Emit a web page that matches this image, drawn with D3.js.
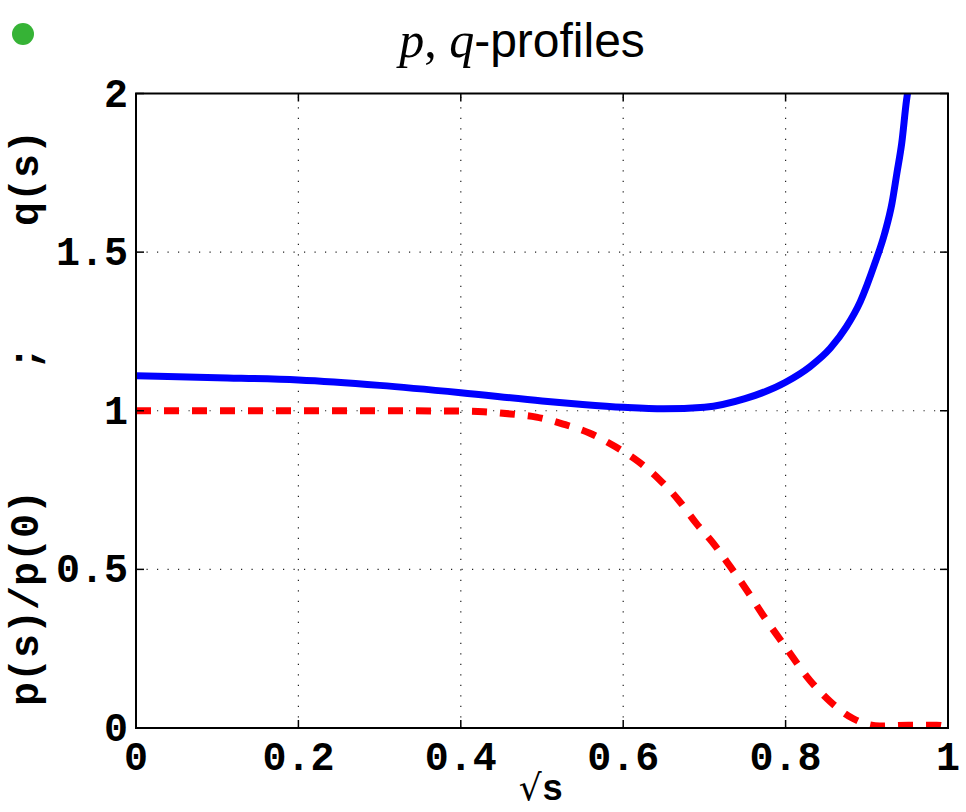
<!DOCTYPE html>
<html>
<head>
<meta charset="utf-8">
<script src="https://cdn.jsdelivr.net/npm/d3@7"></script>
<style>
  html, body { margin: 0; padding: 0; background: #fff; }
  svg { display: block; }
</style>
</head>
<body>
<svg id="chart" width="966" height="812"></svg>
<script>
// Radial coordinate sqrt(s) and the q profile
const qX = [0, 0.1, 0.2, 0.3, 0.4, 0.5, 0.55, 0.6, 0.65, 0.7, 0.75, 0.8, 0.83, 0.855, 0.875, 0.892, 0.91, 0.922, 0.931, 0.937, 0.943, 0.949, 0.952];
const qVal = [1.110, 1.104, 1.097, 1.080, 1.057, 1.031, 1.020, 1.011, 1.006, 1.011, 1.038, 1.090, 1.139, 1.197, 1.265, 1.344, 1.465, 1.559, 1.654, 1.748, 1.843, 1.980, 2.030];

// Normalised pressure profile p(s)/p(0)
const pX = [0, 0.1, 0.2, 0.3, 0.4, 0.428, 0.461, 0.493, 0.526, 0.559, 0.59, 0.619, 0.645, 0.668, 0.69, 0.711, 0.732, 0.752, 0.775, 0.8, 0.83, 0.855, 0.883, 0.916, 0.951, 0.986, 1.0];
const pVal = [1.0, 1.0, 1.0, 1.0, 0.999, 0.997, 0.990, 0.980, 0.958, 0.929, 0.887, 0.839, 0.782, 0.719, 0.645, 0.582, 0.508, 0.435, 0.345, 0.255, 0.150, 0.083, 0.030, 0.006, 0.009, 0.009, 0.003];

const xTicks = [0, 0.2, 0.4, 0.6, 0.8, 1];
const xTickLabels = ["0", "0.2", "0.4", "0.6", "0.8", "1"];
const yTicks = [0, 0.5, 1, 1.5, 2];
const yTickLabels = ["0", "0.5", "1", "1.5", "2"];

const svg = d3.select("#chart");
const L = 136, R = 948, T = 93.5, B = 728;
const x = d3.scaleLinear().domain([0, 1]).range([L, R]);
const y = d3.scaleLinear().domain([0, 2]).range([B, T]);

svg.append("defs").append("clipPath").attr("id", "plotClip")
  .append("rect").attr("x", L).attr("y", T).attr("width", R - L).attr("height", B - T);

// dotted grid
const grid = svg.append("g").attr("stroke", "#222").attr("stroke-width", 1.2)
  .attr("stroke-dasharray", "1.2,9.3");
xTicks.filter(v => v > 0 && v < 1).forEach(v => {
  grid.append("line").attr("x1", x(v)).attr("x2", x(v)).attr("y1", B).attr("y2", T);
});
yTicks.filter(v => v > 0 && v < 2).forEach(v => {
  grid.append("line").attr("x1", L).attr("x2", R).attr("y1", y(v)).attr("y2", y(v));
});

// curves
const plot = svg.append("g").attr("clip-path", "url(#plotClip)");
const line = d3.line().x(d => x(d[0])).y(d => y(d[1])).curve(d3.curveMonotoneX);

plot.append("path")
  .datum(qX.map((v, i) => [v, qVal[i]]))
  .attr("d", line)
  .attr("fill", "none").attr("stroke", "#0000ff").attr("stroke-width", 7);

plot.append("path")
  .datum(pX.map((v, i) => [v, pVal[i]]))
  .attr("d", line)
  .attr("fill", "none").attr("stroke", "#ff0000").attr("stroke-width", 7)
  .attr("stroke-dasharray", "15,13");

// frame and inward ticks
svg.append("rect").attr("x", L).attr("y", T).attr("width", R - L).attr("height", B - T)
  .attr("fill", "none").attr("stroke", "#000").attr("stroke-width", 2);

const ticks = svg.append("g").attr("stroke", "#000").attr("stroke-width", 1.5);
xTicks.forEach(v => {
  ticks.append("line").attr("x1", x(v)).attr("x2", x(v)).attr("y1", B).attr("y2", B - 8);
  ticks.append("line").attr("x1", x(v)).attr("x2", x(v)).attr("y1", T).attr("y2", T + 8);
});
yTicks.forEach(v => {
  ticks.append("line").attr("x1", L).attr("x2", L + 8).attr("y1", y(v)).attr("y2", y(v));
  ticks.append("line").attr("x1", R).attr("x2", R - 8).attr("y1", y(v)).attr("y2", y(v));
});

const monoFont = "'Liberation Mono', 'Courier New', monospace";

// tick labels
svg.append("g").selectAll("text").data(xTicks).join("text")
  .attr("x", d => x(d)).attr("y", 770)
  .attr("text-anchor", "middle")
  .attr("font-family", monoFont).attr("font-weight", "bold").attr("font-size", 40)
  .text((d, i) => xTickLabels[i]);

svg.append("g").selectAll("text").data(yTicks).join("text")
  .attr("x", 128).attr("y", d => y(d) + 13)
  .attr("text-anchor", "end")
  .attr("font-family", monoFont).attr("font-weight", "bold").attr("font-size", 40)
  .text((d, i) => yTickLabels[i]);

// x-axis label: sqrt(s)
const xl = svg.append("text").attr("x", 541).attr("y", 800).attr("text-anchor", "middle");
xl.append("tspan").attr("font-family", "'DejaVu Serif', serif").attr("font-size", 36).text("\u221A");
xl.append("tspan").attr("font-family", monoFont).attr("font-weight", "bold").attr("font-size", 36).text("s");

// y-axis label
svg.append("text")
  .attr("transform", "translate(38,418) rotate(-90)")
  .attr("text-anchor", "middle")
  .attr("font-family", monoFont).attr("font-weight", "bold").attr("font-size", 40)
  .attr("xml:space", "preserve")
  .style("white-space", "pre")
  .text("p(s)/p(0)     ;     q(s)");

// title
const title = svg.append("text").attr("x", 522).attr("y", 57).attr("text-anchor", "middle");
title.append("tspan").attr("font-family", "'Liberation Serif', serif").attr("font-style", "italic").attr("font-size", 50).text("p");
title.append("tspan").attr("font-family", "'Liberation Serif', serif").attr("font-size", 50).text(", ");
title.append("tspan").attr("font-family", "'Liberation Serif', serif").attr("font-style", "italic").attr("font-size", 50).text("q");
title.append("tspan").attr("font-family", "'Liberation Sans', sans-serif").attr("font-size", 48).text("-profiles");

// marker dot
svg.append("circle").attr("cx", 23).attr("cy", 34).attr("r", 11).attr("fill", "#36b336");
</script>
</body>
</html>
